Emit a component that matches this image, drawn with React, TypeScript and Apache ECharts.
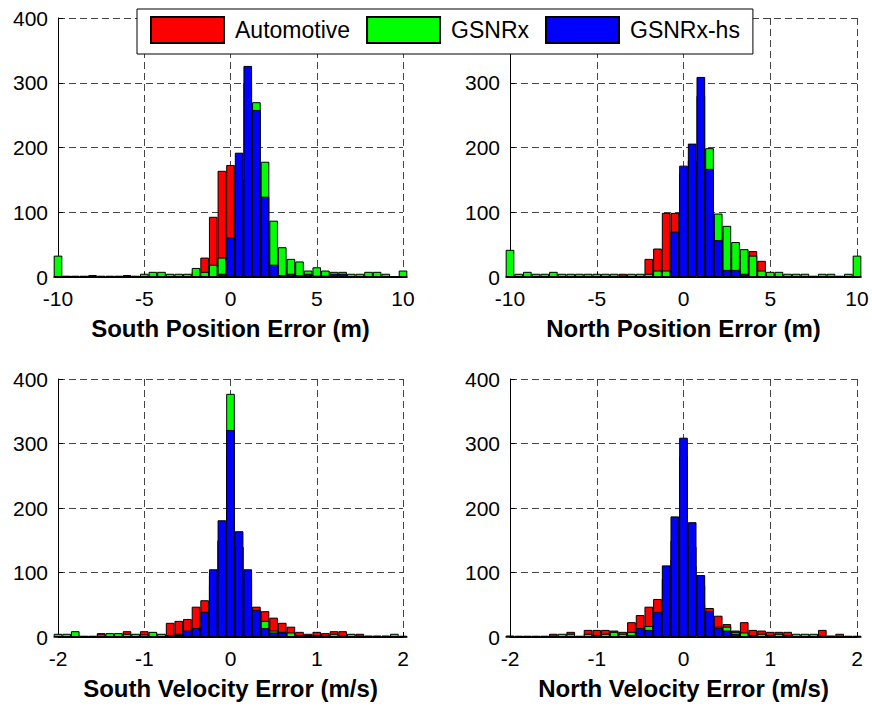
import { useEffect, useRef } from 'react';
import * as echarts from 'echarts';

// Histogram bin centres
const posBins = [
  -10, -9.5, -9, -8.5, -8, -7.5, -7, -6.5, -6, -5.5,
  -5, -4.5, -4, -3.5, -3, -2.5, -2, -1.5, -1, -0.5,
  0, 0.5, 1, 1.5, 2, 2.5, 3, 3.5, 4, 4.5,
  5, 5.5, 6, 6.5, 7, 7.5, 8, 8.5, 9, 9.5,
  10,
];
const velBins = [
  -2, -1.9, -1.8, -1.7, -1.6, -1.5, -1.4, -1.3, -1.2, -1.1,
  -1, -0.9, -0.8, -0.7, -0.6, -0.5, -0.4, -0.3, -0.2, -0.1,
  0, 0.1, 0.2, 0.3, 0.4, 0.5, 0.6, 0.7, 0.8, 0.9,
  1, 1.1, 1.2, 1.3, 1.4, 1.5, 1.6, 1.7, 1.8, 1.9,
  2,
];

const seriesNames = ['Automotive', 'GSNRx', 'GSNRx-hs'];

// South position error counts
const southPosAutomotive = [
  0, 0, 1, 1, 3, 1, 1, 1, 3, 1,
  2, 3, 3, 3, 3, 4, 8, 30, 93, 164,
  173, 150, 120, 90, 60, 30, 14, 10, 8, 5,
  4, 3, 2, 2, 2, 1, 1, 1, 1, 0,
  0,
];
const southPosGsnrx = [
  33, 2, 2, 2, 2, 2, 2, 2, 2, 2,
  5, 8, 8, 5, 5, 5, 14, 8, 19, 30,
  50, 150, 300, 270, 178, 87, 46, 28, 24, 10,
  15, 10, 8, 8, 5, 5, 8, 8, 5, 0,
  10,
];
const southPosGsnrxHs = [
  0, 0, 0, 0, 0, 0, 0, 0, 0, 0,
  0, 0, 0, 0, 0, 0, 0, 0, 0, 5,
  61, 192, 326, 258, 124, 19, 3, 5, 3, 5,
  2, 2, 5, 5, 0, 0, 0, 0, 0, 0,
  0,
];

// North position error counts
const northPosAutomotive = [
  0, 1, 1, 1, 1, 1, 1, 1, 1, 1,
  1, 2, 2, 5, 3, 3, 28, 44, 99, 99,
  160, 170, 150, 120, 70, 40, 30, 30, 40, 25,
  5, 4, 3, 2, 2, 1, 1, 1, 1, 1,
  0,
];
const northPosGsnrx = [
  42, 5, 8, 5, 5, 8, 5, 5, 5, 5,
  5, 5, 5, 2, 5, 5, 5, 10, 10, 60,
  150, 180, 280, 199, 98, 79, 54, 43, 33, 10,
  8, 8, 5, 5, 5, 2, 5, 5, 2, 5,
  33,
];
const northPosGsnrxHs = [
  0, 0, 0, 0, 0, 0, 0, 0, 0, 0,
  0, 0, 0, 0, 0, 0, 0, 0, 0, 70,
  172, 206, 309, 167, 57, 11, 11, 5, 0, 0,
  0, 0, 0, 0, 0, 0, 0, 0, 0, 0,
  0,
];

// South velocity error counts
const southVelAutomotive = [
  2, 2, 3, 1, 1, 6, 4, 4, 9, 4,
  9, 7, 4, 22, 25, 28, 47, 57, 95, 150,
  280, 140, 90, 47, 40, 30, 22, 16, 8, 5,
  8, 6, 9, 9, 4, 5, 2, 2, 2, 2,
  1,
];
const southVelGsnrx = [
  5, 5, 9, 2, 2, 4, 6, 6, 5, 5,
  4, 8, 5, 3, 5, 8, 8, 20, 80, 150,
  377, 140, 60, 30, 25, 10, 8, 7, 3, 3,
  3, 2, 5, 2, 5, 2, 2, 2, 2, 5,
  2,
];
const southVelGsnrxHs = [
  0, 0, 0, 0, 0, 0, 0, 0, 0, 0,
  0, 0, 0, 0, 3, 10, 14, 39, 105, 181,
  321, 164, 105, 42, 14, 7, 7, 0, 0, 0,
  0, 0, 0, 0, 0, 0, 0, 0, 0, 0,
  0,
];

// North velocity error counts
const northVelAutomotive = [
  2, 2, 2, 2, 1, 5, 2, 8, 2, 11,
  11, 11, 10, 8, 23, 34, 47, 59, 90, 150,
  250, 140, 80, 45, 33, 20, 10, 23, 11, 10,
  8, 8, 8, 3, 3, 3, 11, 2, 5, 2,
  2,
];
const northVelGsnrx = [
  2, 1, 1, 1, 2, 2, 5, 5, 1, 5,
  3, 5, 8, 5, 8, 10, 17, 20, 60, 120,
  280, 110, 50, 20, 16, 16, 8, 7, 3, 5,
  3, 5, 3, 5, 5, 5, 2, 2, 1, 1,
  1,
];
const northVelGsnrxHs = [
  0, 0, 0, 0, 0, 0, 0, 0, 0, 0,
  0, 0, 0, 0, 3, 14, 11, 39, 111, 187,
  309, 178, 96, 40, 14, 10, 5, 0, 0, 0,
  0, 0, 0, 0, 0, 0, 0, 0, 0, 0,
  0,
];

const FONT = '"Liberation Sans", Arial, Helvetica, sans-serif';
const COLORS = ['#ff0000', '#00ff00', '#0000ff'];

type Panel = {
  bins: number[];
  min: number;
  max: number;
  step: number;
  binWidth: number;
  title: string;
  counts: number[][];
  underLegend: boolean;
  rect: { left: number; top: number; width: number; height: number };
};

const panels: Panel[] = [
  {
    bins: posBins, min: -10, max: 10, step: 5, binWidth: 0.5,
    title: 'South Position Error (m)',
    counts: [southPosAutomotive, southPosGsnrx, southPosGsnrxHs],
    underLegend: false,
    rect: { left: 58, top: 18, width: 345, height: 259 },
  },
  {
    bins: posBins, min: -10, max: 10, step: 5, binWidth: 0.5,
    title: 'North Position Error (m)',
    counts: [northPosAutomotive, northPosGsnrx, northPosGsnrxHs],
    underLegend: true,
    rect: { left: 510, top: 18, width: 347, height: 259 },
  },
  {
    bins: velBins, min: -2, max: 2, step: 1, binWidth: 0.1,
    title: 'South Velocity Error (m/s)',
    counts: [southVelAutomotive, southVelGsnrx, southVelGsnrxHs],
    underLegend: false,
    rect: { left: 58, top: 379, width: 345, height: 258 },
  },
  {
    bins: velBins, min: -2, max: 2, step: 1, binWidth: 0.1,
    title: 'North Velocity Error (m/s)',
    counts: [northVelAutomotive, northVelGsnrx, northVelGsnrxHs],
    underLegend: false,
    rect: { left: 510, top: 379, width: 347, height: 258 },
  },
];

const gridLine = { show: true, lineStyle: { type: [7, 4] as number[], color: '#444444', width: 1 } };

function buildOption() {
  const grid = panels.map((p) => ({ ...p.rect, containLabel: false }));
  const xAxis = panels.map((p, i) => ({
    type: 'value' as const,
    gridIndex: i,
    min: p.min,
    max: p.max,
    interval: p.step,
    name: p.title,
    nameLocation: 'middle' as const,
    nameGap: 39,
    nameTextStyle: { fontFamily: FONT, fontSize: 24, fontWeight: 'bold' as const, color: '#000' },
    axisLine: { show: true, onZero: false, lineStyle: { color: '#000', width: 1 } },
    axisTick: { show: true, inside: true, length: 5, lineStyle: { color: '#000' } },
    axisLabel: { fontFamily: FONT, fontSize: 21, color: '#000', margin: 11 },
    splitLine: gridLine,
  }));
  const yAxis = panels.map((p, i) => ({
    type: 'value' as const,
    gridIndex: i,
    min: 0,
    max: 400,
    interval: 100,
    axisLine: { show: true, onZero: false, lineStyle: { color: '#000', width: 1 } },
    axisTick: { show: true, inside: true, length: 5, lineStyle: { color: '#000' } },
    // the top label of the right-hand panel sits behind the legend box
    axisLabel: {
      fontFamily: FONT, fontSize: 21, color: '#000', margin: 10,
      showMaxLabel: !p.underLegend,
    },
    splitLine: gridLine,
  }));
  const series: any[] = [];
  panels.forEach((p, i) => {
    const barPx = (p.rect.width * p.binWidth) / (p.max - p.min);
    p.counts.forEach((vals, k) => {
      series.push({
        type: 'bar',
        name: seriesNames[k],
        xAxisIndex: i,
        yAxisIndex: i,
        barWidth: barPx,
        barGap: '-100%',
        clip: true,
        silent: true,
        itemStyle: { color: COLORS[k], borderColor: '#000', borderWidth: 1 },
        data: p.bins.map((x, j) => [x, vals[j]]),
      });
    });
  });
  return {
    animation: false,
    backgroundColor: '#fff',
    grid,
    xAxis,
    yAxis,
    legend: {
      data: seriesNames,
      left: 137,
      top: 9,
      padding: [7, 13, 10, 13],
      itemWidth: 73,
      itemHeight: 26,
      itemGap: 16,
      backgroundColor: '#fff',
      borderColor: '#000',
      borderWidth: 1,
      borderRadius: 0,
      selectedMode: false,
      icon: 'rect',
      textStyle: { fontFamily: FONT, fontSize: 23, color: '#000', padding: [0, 0, 0, 6] },
      z: 10,
    },
    series,
  };
}

export default function App() {
  const ref = useRef<HTMLDivElement>(null);
  useEffect(() => {
    if (!ref.current) return;
    const chart = echarts.init(ref.current, undefined, { renderer: 'svg' });
    chart.setOption(buildOption());
    return () => chart.dispose();
  }, []);
  return (
    <div
      ref={ref}
      style={{ position: 'fixed', left: 0, top: 0, width: 872, height: 706, background: '#fff' }}
    />
  );
}
